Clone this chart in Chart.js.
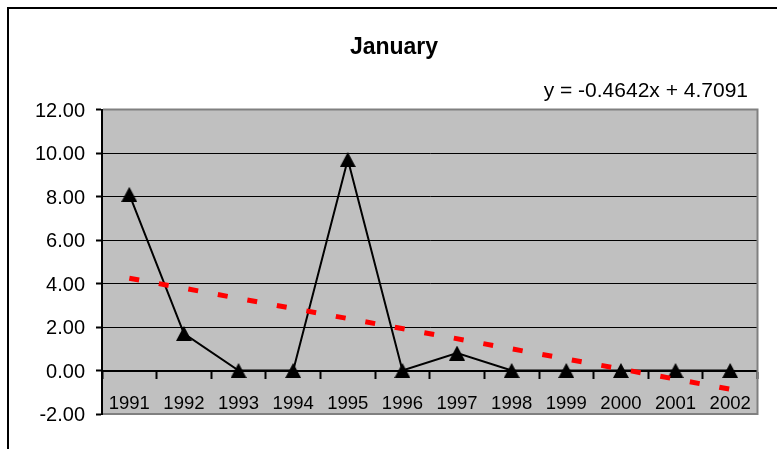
<!DOCTYPE html>
<html>
<head>
<meta charset="utf-8">
<title>January</title>
<script src="https://cdn.jsdelivr.net/npm/chart.js@4/dist/chart.umd.min.js"></script>
<style>
  html, body { margin: 0; padding: 0; background: #ffffff; }
  #wrap { position: relative; width: 777px; height: 449px; }
</style>
</head>
<body>
<div id="wrap"><canvas id="chart" width="777" height="449"></canvas></div>
<script>
// ---- data ----
const years = ['1991', '1992', '1993', '1994', '1995', '1996', '1997', '1998', '1999', '2000', '2001', '2002'];
const januaryValues = [8.1, 1.7, 0, 0, 9.7, 0, 0.8, 0, 0, 0, 0, 0];
const yAxisRange = [-2, 12];
const yAxisStep = 2;
const trendSlope = -0.4642;
const trendIntercept = 4.7091;
const chartTitle = 'January';

// linear trend (x counts categories from 1), drawn between the first and last year
const trendPoints = [
  { x: years[0], y: trendSlope * 1 + trendIntercept },
  { x: years[years.length - 1], y: trendSlope * years.length + trendIntercept }
];
const equationText = 'y = ' + trendSlope.toFixed(4) + 'x + ' + trendIntercept.toFixed(4);

const FONT = '"Liberation Sans", Arial, Helvetica, sans-serif';
Chart.defaults.font.family = FONT;
Chart.defaults.color = '#000000';

// solid black triangle marker
function triangleMarker() {
  const c = document.createElement('canvas');
  c.width = 16; c.height = 15;
  const g = c.getContext('2d');
  g.fillStyle = '#000000';
  g.beginPath();
  g.moveTo(8, 0);
  g.lineTo(16, 15);
  g.lineTo(0, 15);
  g.closePath();
  g.fill();
  return c;
}

const decorations = {
  id: 'decorations',
  beforeDraw(chart) {
    const { ctx, chartArea: a, width, height } = chart;
    ctx.save();
    ctx.fillStyle = '#ffffff';
    ctx.fillRect(0, 0, width, height);
    ctx.fillStyle = '#C0C0C0';
    ctx.fillRect(a.left, a.top, a.right - a.left, a.bottom - a.top);
    ctx.restore();
  },
  beforeDatasetsDraw(chart) {
    const { ctx, chartArea: a } = chart;
    ctx.save();
    ctx.strokeStyle = '#808080';
    ctx.lineWidth = 2;
    ctx.beginPath();
    ctx.moveTo(a.left + 1, a.top);
    ctx.lineTo(a.right, a.top);
    ctx.lineTo(a.right, a.bottom);
    ctx.lineTo(a.left + 1, a.bottom);
    ctx.stroke();
    ctx.restore();
  },
  afterDraw(chart) {
    const { ctx, width, height } = chart;
    ctx.save();
    // chart frame (left and top edges)
    ctx.fillStyle = '#000000';
    ctx.fillRect(7, 7, 2, height - 7);
    ctx.fillRect(7, 7, width - 7, 2);
    // title
    ctx.font = 'bold 23px ' + FONT;
    ctx.textAlign = 'center';
    ctx.textBaseline = 'alphabetic';
    ctx.fillText(chartTitle, 394, 53.5);
    // trendline equation
    ctx.font = '21px ' + FONT;
    ctx.textAlign = 'right';
    ctx.fillText(equationText, 748, 96.5);
    ctx.restore();
  }
};

new Chart(document.getElementById('chart'), {
  type: 'line',
  data: {
    labels: years,
    datasets: [
      {
        label: 'Linear trend',
        data: trendPoints,
        borderColor: '#FF0000',
        borderWidth: 5,
        borderDash: [10, 20],
        borderCapStyle: 'butt',
        pointRadius: 0,
        fill: false,
        tension: 0
      },
      {
        label: chartTitle,
        data: januaryValues,
        borderColor: '#000000',
        borderWidth: 2,
        pointStyle: triangleMarker(),
        pointRadius: 8,
        pointBackgroundColor: '#000000',
        fill: false,
        tension: 0
      }
    ]
  },
  options: {
    responsive: false,
    animation: false,
    devicePixelRatio: 1,
    layout: { padding: { left: 0, right: 19.5, top: 109.5, bottom: 35 } },
    plugins: {
      legend: { display: false },
      tooltip: { enabled: false },
      title: { display: false }
    },
    scales: {
      x: {
        type: 'category',
        position: { y: 0 },
        offset: true,
        grid: {
          offset: true,
          display: true,
          drawOnChartArea: false,
          drawTicks: true,
          tickLength: 7,
          tickColor: '#000000',
          tickWidth: 2
        },
        border: { display: true, color: '#000000', width: 2 },
        ticks: {
          font: { size: 18.5 },
          color: '#000000',
          padding: 15,
          maxRotation: 0,
          autoSkip: false
        }
      },
      y: {
        min: yAxisRange[0],
        max: yAxisRange[1],
        afterFit(scale) { scale.width = 102; },
        grid: {
          color(ctx) {
            const v = ctx.tick ? ctx.tick.value : null;
            return (v > 0 && v < yAxisRange[1]) ? '#000000' : 'rgba(0,0,0,0)';
          },
          lineWidth: 1,
          drawTicks: true,
          tickLength: 6,
          tickColor: '#000000',
          tickWidth: 2
        },
        border: { display: true, color: '#000000', width: 2 },
        ticks: {
          stepSize: yAxisStep,
          font: { size: 20 },
          color: '#000000',
          padding: 11,
          labelOffset: 1.5,
          callback: (v) => Number(v).toFixed(2)
        }
      }
    }
  },
  plugins: [decorations]
});
</script>
</body>
</html>
